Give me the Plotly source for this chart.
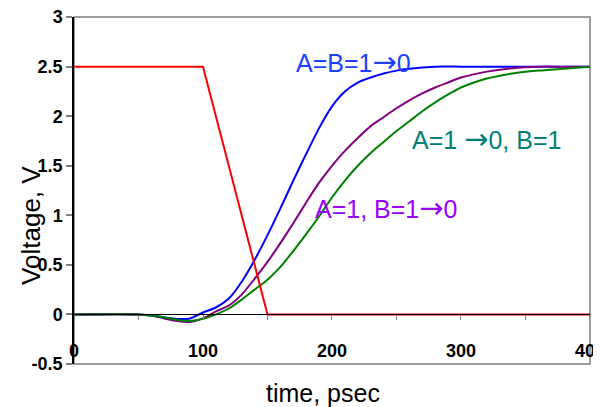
import plotly.graph_objects as go

# ---- data ----
t_red = [0, 100, 150, 400]
v_red = [2.5, 2.5, 0, 0]

t_blue = [0, 50, 60, 70, 80, 90, 100, 110, 120, 130, 140, 150, 160, 170, 180, 190, 200, 210, 220, 230, 240, 250, 260, 280, 300, 350, 400]
v_blue = [0, 0, -0.01, -0.03, -0.045, -0.04, 0.02, 0.07, 0.16, 0.33, 0.55, 0.80, 1.07, 1.35, 1.62, 1.88, 2.10, 2.25, 2.34, 2.39, 2.43, 2.46, 2.48, 2.5, 2.5, 2.5, 2.5]

t_purple = [0, 50, 60, 70, 80, 90, 100, 110, 120, 130, 140, 150, 160, 170, 180, 190, 200, 210, 220, 230, 240, 250, 260, 270, 280, 290, 300, 320, 340, 360, 380, 400]
v_purple = [0, 0, -0.01, -0.04, -0.065, -0.075, -0.04, 0.03, 0.09, 0.2, 0.36, 0.53, 0.72, 0.92, 1.13, 1.33, 1.5, 1.65, 1.78, 1.90, 1.99, 2.08, 2.16, 2.23, 2.29, 2.34, 2.39, 2.45, 2.485, 2.5, 2.5, 2.5]

t_green = [0, 50, 60, 70, 80, 90, 100, 110, 120, 130, 140, 150, 160, 170, 180, 190, 200, 210, 220, 230, 240, 250, 260, 270, 280, 290, 300, 310, 320, 340, 360, 380, 400]
v_green = [0, 0, -0.01, -0.03, -0.055, -0.065, -0.045, 0.0, 0.06, 0.15, 0.25, 0.35, 0.48, 0.64, 0.81, 0.99, 1.18, 1.35, 1.50, 1.63, 1.74, 1.85, 1.95, 2.05, 2.14, 2.22, 2.29, 2.34, 2.38, 2.43, 2.46, 2.48, 2.5]

y_tickvals = [-0.5, 0, 0.5, 1, 1.5, 2, 2.5, 3]
y_ticktext = ["-0.5", "0", "0.5", "1", "1.5", "2", "2.5", "3"]
x_tickvals = [0, 100, 200, 300, 400]
x_ticktext = ["0", "100", "200", "300", "400"]

x_title = "time, psec"
y_title = "Voltage, V"

ARROW = "<span style='font-family:DejaVu Sans;font-size:29px'>\u2192</span>"
labels = ["A=B=1" + ARROW + "0", "A=1 " + ARROW + "0, B=1", "A=1, B=1" + ARROW + "0"]
label_t = [217, 320, 242]
label_v = [2.55, 1.77, 1.07]
label_colors = ["#2040FF", "#008075", "#9900FF"]

FONT = "Liberation Sans, Arial, sans-serif"

fig = go.Figure()
fig.add_trace(go.Scatter(x=t_blue, y=v_blue, mode="lines", line=dict(color="#0000FF", width=2, shape="spline", smoothing=0.6), hoverinfo="skip"))
fig.add_trace(go.Scatter(x=t_purple, y=v_purple, mode="lines", line=dict(color="#800080", width=2, shape="spline", smoothing=0.6), hoverinfo="skip"))
fig.add_trace(go.Scatter(x=t_green, y=v_green, mode="lines", line=dict(color="#008000", width=2, shape="spline", smoothing=0.6), hoverinfo="skip"))
fig.add_trace(go.Scatter(x=t_red, y=v_red, mode="lines", line=dict(color="#FF0000", width=2), hoverinfo="skip"))

for txt, tx, vy, c in zip(labels, label_t, label_v, label_colors):
    fig.add_annotation(x=tx, y=vy, text=txt, showarrow=False, xanchor="center", yanchor="middle",
                       font=dict(family=FONT, size=25, color=c))

# axis titles (placed as in the reference)
fig.add_annotation(xref="paper", yref="paper", x=0.4826, y=-0.0836, text=x_title, showarrow=False,
                   xanchor="center", yanchor="middle", font=dict(family=FONT, size=25, color="black"))
fig.add_annotation(xref="paper", yref="paper", x=-0.0833, y=0.398, text=y_title, showarrow=False,
                   textangle=-90, xanchor="center", yanchor="middle", font=dict(family=FONT, size=26, color="black"))

fig.add_shape(type="rect", xref="paper", yref="paper", x0=0, y0=0, x1=1, y1=1,
              line=dict(color="#808080", width=1.5), layer="below")

# page has an 8px body margin, so the figure is sized/offset to compensate
fig.update_layout(
    width=593, height=399,
    margin=dict(l=66, r=11, t=9, b=43, autoexpand=False),
    paper_bgcolor="white", plot_bgcolor="rgba(0,0,0,0)",
    showlegend=False,
    font=dict(family=FONT, color="black"),
    xaxis=dict(
        range=[0, 400.01], anchor="free", position=0.5 / 3.501, automargin=False,
        showline=True, linecolor="black", linewidth=1,
        showgrid=False, zeroline=False,
        tickmode="array", tickvals=x_tickvals, ticktext=x_ticktext,
        ticks="outside", ticklen=5, tickcolor="#808080", tickwidth=1,
        minor=dict(dtick=50, tick0=0, ticks="outside", ticklen=5, tickcolor="#808080", showgrid=False),
        ticklabelstandoff=15, ticklabeloverflow="allow",
        tickfont=dict(family=FONT, size=18, weight="bold"),
    ),
    yaxis=dict(
        range=[-0.5, 3.001], automargin=False,
        showline=True, linecolor="black", linewidth=1.5,
        showgrid=False, zeroline=False,
        tickmode="array", tickvals=y_tickvals, ticktext=y_ticktext,
        ticks="outside", ticklen=6, tickcolor="#808080", tickwidth=1.5,
        ticklabeloverflow="allow",
        tickfont=dict(family=FONT, size=18, weight="bold"),
    ),
)

fig.write_html("out.html")
